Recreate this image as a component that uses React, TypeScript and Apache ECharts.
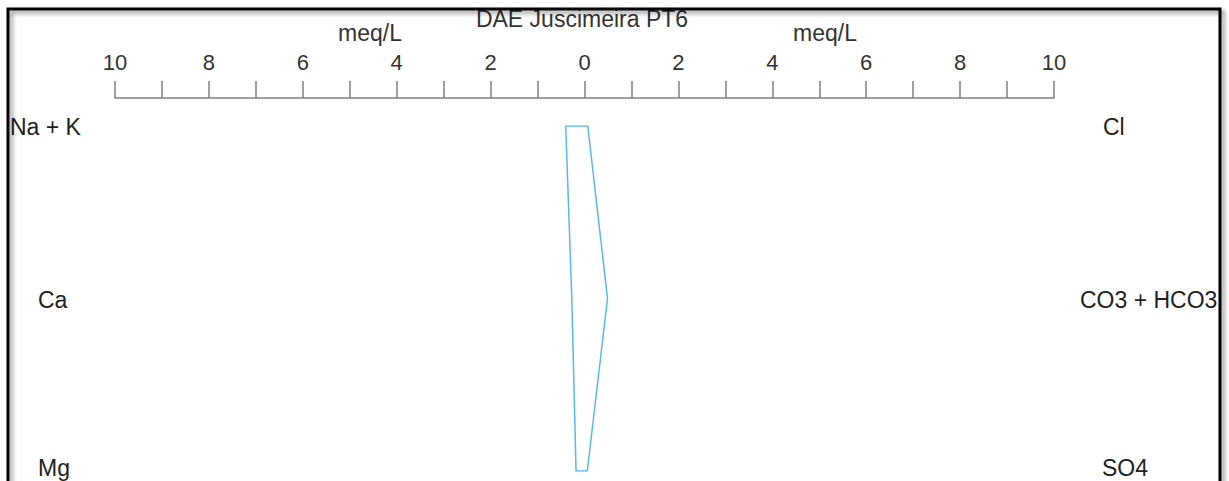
import React, { useEffect, useRef } from "react";
import * as echarts from "echarts";

const title = "DAE Juscimeira PT6";
const unitLabel = "meq/L";
const cations = ["Na + K", "Ca", "Mg"];
const anions = ["Cl", "CO3 + HCO3", "SO4"];
const cationValues = [0.4, 0.27, 0.18];
const anionValues = [0.07, 0.49, 0.06];
const axisMin = -10;
const axisMax = 10;

const FONT = "'Liberation Sans', Arial, sans-serif";

export default function App() {
  const ref = useRef<HTMLDivElement>(null);
  useEffect(() => {
    if (!ref.current) return;
    const chart = echarts.init(ref.current, null, { renderer: "svg" });

    const poly: [number, number][] = [];
    cationValues.forEach((v, i) => poly.push([-v, i]));
    for (let i = anionValues.length - 1; i >= 0; i--) poly.push([anionValues[i], i]);
    poly.push([-cationValues[0], 0]);

    const leftX = [10, 38, 38];
    const rightX = [1103, 1080, 1102];
    const rowY = [127, 300, 468];

    const graphics: any[] = [
      {
        type: "rect",
        shape: { x: 8, y: 9, width: 1212, height: 520 },
        style: {
          fill: "none",
          stroke: "#000",
          lineWidth: 3,
          shadowColor: "rgba(0,0,0,0.45)",
          shadowBlur: 4,
          shadowOffsetX: 3,
          shadowOffsetY: 3,
        },
        z: 10,
      },
      {
        type: "text",
        x: 582,
        y: 19,
        style: { text: title, fill: "#333", font: `23px ${FONT}`, align: "center", verticalAlign: "middle" },
      },
      {
        type: "text",
        x: 370,
        y: 33,
        style: { text: unitLabel, fill: "#333", font: `23px ${FONT}`, align: "center", verticalAlign: "middle" },
      },
      {
        type: "text",
        x: 825,
        y: 33,
        style: { text: unitLabel, fill: "#333", font: `23px ${FONT}`, align: "center", verticalAlign: "middle" },
      },
    ];
    cations.forEach((c, i) =>
      graphics.push({
        type: "text",
        x: leftX[i],
        y: rowY[i],
        style: { text: c, fill: "#222", font: `23px ${FONT}`, align: "left", verticalAlign: "middle" },
      })
    );
    anions.forEach((a, i) =>
      graphics.push({
        type: "text",
        x: rightX[i],
        y: rowY[i],
        style: { text: a, fill: "#222", font: `23px ${FONT}`, align: "left", verticalAlign: "middle" },
      })
    );

    chart.setOption({
      animation: false,
      backgroundColor: "#fff",
      grid: [
        { left: 115, right: 175, top: 97, height: 1 },
        { left: 115, right: 175, top: 126, bottom: 10 },
      ],
      xAxis: [
        {
          gridIndex: 0,
          type: "value",
          position: "top",
          min: axisMin,
          max: axisMax,
          interval: 1,
          splitLine: { show: false },
          axisLine: { show: true, lineStyle: { color: "#808080", width: 1.5 } },
          axisTick: { show: true, length: 17, lineStyle: { color: "#808080", width: 1.5 } },
          axisLabel: {
            margin: 24,
            color: "#333",
            fontSize: 22,
            fontFamily: FONT,
            formatter: (v: number) => (Math.round(v) % 2 === 0 ? String(Math.abs(v)) : ""),
          },
        },
        {
          gridIndex: 1,
          type: "value",
          min: axisMin,
          max: axisMax,
          show: false,
        },
      ],
      yAxis: [
        { gridIndex: 0, type: "value", show: false },
        { gridIndex: 1, type: "value", min: 0, max: 2, inverse: true, show: false },
      ],
      series: [
        {
          type: "line",
          xAxisIndex: 1,
          yAxisIndex: 1,
          data: poly,
          showSymbol: false,
          symbol: "none",
          lineStyle: { color: "#5ab6ee", width: 1.5 },
        },
      ],
      graphic: graphics,
    });
    return () => chart.dispose();
  }, []);
  return <div ref={ref} style={{ position: "fixed", left: 0, top: 0, width: 1229, height: 481 }} />;
}
